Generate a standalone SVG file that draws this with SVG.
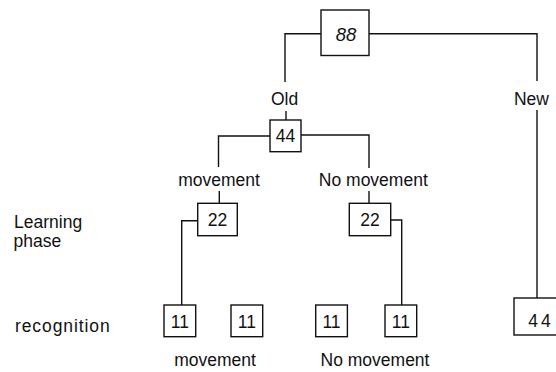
<svg xmlns="http://www.w3.org/2000/svg" width="556" height="372" viewBox="0 0 556 372">
<style>
  text { font-family: "Liberation Sans", Arial, sans-serif; font-size: 17.5px; fill: #111; }
  .c { text-anchor: middle; }
  .box { fill: #fff; stroke: #111; stroke-width: 1.4; }
  .wire { fill: none; stroke: #111; stroke-width: 1.4; }
</style>
<rect width="556" height="372" fill="#fff"/>
<g id="connectors">
  <path class="wire" d="M321,33.7 H285 V82"/>
  <path class="wire" d="M369,33.7 H537 V81"/>
  <path class="wire" d="M286,111 V120"/>
  <path class="wire" d="M270,136 H218.5 V167"/>
  <path class="wire" d="M301,135 H369 V168"/>
  <path class="wire" d="M219.3,191 V203.3"/>
  <path class="wire" d="M369,191 V203.3"/>
  <path class="wire" d="M197.7,220.7 H181.7 V305"/>
  <path class="wire" d="M390.7,220 H401.7 V305"/>
  <path class="wire" d="M537,110 V298"/>
</g>
<g id="n88">
  <rect class="box" x="321" y="10" width="48" height="45.5"/>
  <text class="c" x="346" y="41" style="font-style:italic;font-size:18.5px">88</text>
</g>
<g id="old"><text class="c" x="284.5" y="105">Old</text></g>
<g id="new"><text class="c" x="531.5" y="105">New</text></g>
<g id="n44a">
  <rect class="box" x="270" y="120" width="31" height="31.7"/>
  <text class="c" x="285.5" y="142">44</text>
</g>
<g id="mov1"><text class="c" x="219" y="186">movement</text></g>
<g id="nomov1"><text class="c" x="373.3" y="186">No movement</text></g>
<g id="n22a">
  <rect class="box" x="197.7" y="203.3" width="39.6" height="32.4"/>
  <text class="c" x="217.5" y="226">22</text>
</g>
<g id="n22b">
  <rect class="box" x="349.3" y="203.3" width="41.4" height="32.4"/>
  <text class="c" x="370" y="226">22</text>
</g>
<g id="lp">
  <text x="14" y="227.5">Learning</text>
  <text x="13.5" y="246.5">phase</text>
</g>
<g id="rec"><text x="15" y="332" letter-spacing="0.9">recognition</text></g>
<g id="n11a">
  <rect class="box" x="164" y="305" width="31.7" height="31.7"/>
  <text class="c" x="179.8" y="328">11</text>
</g>
<g id="n11b">
  <rect class="box" x="231" y="305" width="31.7" height="31.7"/>
  <text class="c" x="246.8" y="328">11</text>
</g>
<g id="n11c">
  <rect class="box" x="315.7" y="305" width="31.7" height="31.7"/>
  <text class="c" x="331.5" y="328">11</text>
</g>
<g id="n11d">
  <rect class="box" x="385" y="305" width="31.7" height="31.7"/>
  <text class="c" x="400.8" y="328">11</text>
</g>
<g id="n44b">
  <rect class="box" x="514" y="298" width="46" height="37"/>
  <text class="c" x="541" y="327" letter-spacing="3">44</text>
</g>
<g id="mov2"><text class="c" x="215" y="366">movement</text></g>
<g id="nomov2"><text class="c" x="375" y="366">No movement</text></g>
</svg>
